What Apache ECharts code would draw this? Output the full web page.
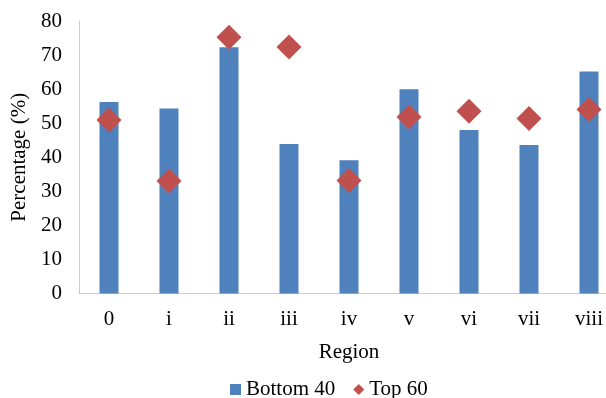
<!DOCTYPE html>
<html>
<head>
<meta charset="utf-8">
<script src="https://cdn.jsdelivr.net/npm/echarts@6/dist/echarts.min.js"></script>
<style>
  html, body { margin: 0; padding: 0; background: #fff; }
  #chart { width: 606px; height: 398px; }
</style>
</head>
<body>
<div id="chart"></div>
<script>
// Regions along the x axis
const regions = ['0', 'i', 'ii', 'iii', 'iv', 'v', 'vi', 'vii', 'viii'];
// Percentage for the bottom 40 group (bars)
const bottom40 = [56.2, 54.3, 72.3, 43.9, 39.1, 60.0, 48.0, 43.6, 65.2];
// Percentage for the top 60 group (diamonds)
const top60 = [50.9, 33.0, 75.2, 72.4, 33.2, 51.8, 53.5, 51.4, 54.0];
// Y axis range
const yMin = 0, yMax = 80, yStep = 10;

const font = 'Liberation Serif, Times New Roman, serif';
const chart = echarts.init(document.getElementById('chart'));

chart.setOption({
  animation: false,
  backgroundColor: '#ffffff',
  // the plot runs slightly past the right edge of the canvas
  grid: {
    left: 79, top: 21, height: 272.5, width: 540,
    containLabel: false,
    outerBoundsMode: 'none'
  },
  legend: {
    left: 230,
    top: 379,
    padding: 0,
    itemWidth: 11,
    itemHeight: 11,
    itemGap: 18,
    textStyle: { fontFamily: font, fontSize: 21, color: '#000' },
    data: [
      { name: 'Bottom 40', icon: 'rect' },
      { name: 'Top 60', icon: 'diamond', itemStyle: { color: '#C0504D' } }
    ]
  },
  xAxis: {
    type: 'category',
    data: regions,
    name: 'Region',
    nameLocation: 'middle',
    nameGap: 48,
    nameTextStyle: { fontFamily: font, fontSize: 21, color: '#000' },
    axisLine: { lineStyle: { color: '#cccccc', width: 1 } },
    axisTick: { show: false },
    axisLabel: { fontFamily: font, fontSize: 21, color: '#000', margin: 15 },
    splitLine: { show: false }
  },
  yAxis: {
    type: 'value',
    min: yMin,
    max: yMax,
    interval: yStep,
    name: 'Percentage (%)',
    nameLocation: 'middle',
    nameGap: 47,
    nameTextStyle: { fontFamily: font, fontSize: 21, color: '#000' },
    axisLine: { show: true, lineStyle: { color: '#cccccc', width: 1 } },
    axisTick: { show: false },
    axisLabel: { fontFamily: font, fontSize: 21, color: '#000', margin: 17 },
    splitLine: { show: false }
  },
  series: [
    {
      name: 'Bottom 40',
      type: 'bar',
      data: bottom40,
      barWidth: 19,
      itemStyle: { color: '#4F81BD' }
    },
    {
      name: 'Top 60',
      type: 'scatter',
      data: top60,
      symbol: 'diamond',
      symbolSize: 25,
      itemStyle: { color: '#C0504D', opacity: 1 },
      z: 5
    }
  ]
});
</script>
</body>
</html>
